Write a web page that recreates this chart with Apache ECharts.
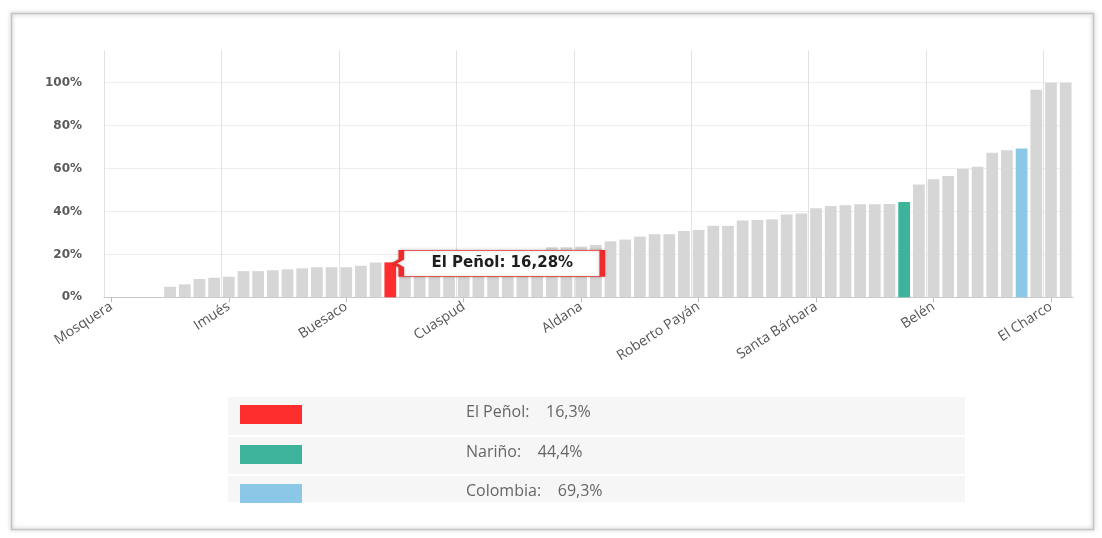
<!DOCTYPE html>
<html>
<head>
<meta charset="utf-8">
<script src="https://cdn.jsdelivr.net/npm/echarts@6/dist/echarts.min.js"></script>
<style>
html,body{margin:0;padding:0;background:#fff;}
#c{width:1102px;height:538px;}
</style>
</head>
<body>
<div id="c"></div>
<script>
// ---- data ----
const categories = [
  'Mosquera','La Tola','Olaya Herrera','Magüí','Francisco Pizarro','Barbacoas','Cumbitara','Policarpa',
  'Imués','Leiva','El Rosario','Ricaurte','Mallama','Los Andes','La Llanada','Providencia',
  'Buesaco','Arboleda','Funes','El Peñol','Ospina','Iles','Santacruz','Guaitarilla',
  'Cuaspud','Potosí','Contadero','Córdoba','Puerres','Cumbal','Guachucal','Sapuyes',
  'Aldana','Gualmatán','Yacuanquer','Tangua','Consacá','Ancuya','Linares','El Tambo',
  'Roberto Payán','San Pedro de Cartago','La Florida','Albán','Colón','San Bernardo','El Tablón de Gómez','San Lorenzo',
  'Santa Bárbara','Taminango','Chachagüí','San Pablo','La Cruz','Samaniego','Nariño','Sandoná',
  'Belén','La Unión','Pupiales','Túquerres','Nariño (municipio)','Ipiales','Colombia','Tumaco',
  'El Charco','Pasto'
];
const values = [
  0, 0, 0, 0, 4.9, 6.0, 8.5, 9.1,
  9.6, 12.2, 12.2, 12.6, 13.0, 13.5, 14.0, 14.0,
  14.0, 14.7, 16.2, 16.28, 16.6, 16.9, 17.4, 17.7,
  18.5, 19.0, 19.8, 20.4, 21.3, 22.0, 23.3, 23.3,
  23.6, 24.4, 26.1, 26.9, 28.3, 29.4, 29.4, 30.9,
  31.4, 33.3, 33.3, 35.8, 36.0, 36.3, 38.6, 39.1,
  41.5, 42.5, 42.9, 43.4, 43.4, 43.5, 44.4, 52.6,
  55.0, 56.5, 59.9, 60.8, 67.3, 68.5, 69.3, 96.7,
  100, 100
];
const highlightNames = ['El Peñol', 'Nariño', 'Colombia'];
const highlightValues = [16.28, 44.4, 69.3];
const highlightColors = ['#ff2e2e', '#3db39b', '#8bc8e8'];
const tooltipName = 'El Peñol';
const yTickValues = [0, 20, 40, 60, 80, 100];

// ---- helpers ----
const fmt = (v, d) => v.toFixed(d).replace('.', ',');
const barColor = '#d6d6d6';

const seriesData = values.map((v, i) => {
  const h = highlightNames.indexOf(categories[i]);
  return h >= 0 ? { value: v, itemStyle: { color: highlightColors[h] } } : v;
});

const tipIdx = categories.indexOf(tooltipName);
const tipVal = values[tipIdx];

// legend rows (table below chart)
const rowTops = [397, 437, 476];
const rowHeights = [38, 37, 26];
const legendGraphics = [];
highlightNames.forEach((n, i) => {
  legendGraphics.push({
    type: 'rect', left: 228, top: rowTops[i], z: 1,
    shape: { width: 737, height: rowHeights[i] },
    style: { fill: '#f6f6f6' }
  });
  legendGraphics.push({
    type: 'rect', left: 240, top: rowTops[i] + 8, z: 2,
    shape: { width: 62, height: 19 },
    style: { fill: highlightColors[i] }
  });
  legendGraphics.push({
    type: 'text', left: 466, top: rowTops[i] + 7, z: 2,
    style: {
      text: n + ':    ' + fmt(highlightValues[i], 1) + '%',
      fill: '#666', font: '16px "Open Sans", sans-serif'
    }
  });
});

const chart = echarts.init(document.getElementById('c'), null, { renderer: 'canvas' });
chart.setOption({
  animation: false,
  backgroundColor: '#fff',
  grid: { left: 104, right: 29, top: 50.5, bottom: 240.7, containLabel: false },
  xAxis: {
    type: 'category',
    data: categories,
    boundaryGap: true,
    axisLine: { show: true, lineStyle: { color: '#c8c8c8', width: 1 } },
    axisTick: { show: true, interval: 7, alignWithLabel: true, length: 5, lineStyle: { color: '#bbb' } },
    axisLabel: {
      interval: 7, rotate: 33, margin: 8,
      color: '#555', fontSize: 14, fontFamily: '"Open Sans", sans-serif'
    },
    splitLine: { show: true, interval: 7, showMaxLine: false, lineStyle: { color: '#e2e2e2', width: 1 } }
  },
  yAxis: {
    type: 'value',
    min: 0, max: 115, interval: 20,
    axisLine: { show: false },
    axisTick: { show: false },
    axisLabel: {
      margin: 22, showMaxLabel: false,
      color: '#5a5a5a', fontSize: 12, fontWeight: 'bold', fontFamily: '"DejaVu Sans", sans-serif',
      formatter: v => (yTickValues.indexOf(v) >= 0 ? v + '%' : '')
    },
    splitLine: { show: true, showMaxLine: false, lineStyle: { color: '#eeeeee', width: 1 } }
  },
  series: [{
    type: 'bar',
    data: seriesData,
    barCategoryGap: '20%',
    itemStyle: { color: barColor },
    emphasis: { disabled: true },
    markPoint: {
      silent: true,
      symbol: 'path://M7,0L208,0L208,26L7,26L7,17L0,13L7,9Z',
      symbolSize: [208, 26],
      symbolKeepAspect: false,
      symbolOffset: [108, 1],
      itemStyle: { color: '#fff', borderColor: '#ee2b2b', borderWidth: 2, shadowColor: 'rgba(0,0,0,0.25)', shadowBlur: 3 },
      label: {
        show: true, position: 'inside', offset: [4, 0],
        formatter: tooltipName + ': ' + fmt(tipVal, 2) + '%',
        color: '#1e1e1e', fontSize: 15, fontWeight: 'bold', fontFamily: '"DejaVu Sans", sans-serif'
      },
      data: [{ coord: [tooltipName, tipVal] }]
    }
  }],
  graphic: [
    {
      type: 'rect', left: 9, top: 11, z: 0, silent: true,
      shape: { width: 1082, height: 516 },
      style: { fill: 'none', stroke: '#c4c4c4', lineWidth: 1.5, shadowColor: 'rgba(0,0,0,0.3)', shadowBlur: 4 }
    }
  ].concat(legendGraphics)
});
</script>
</body>
</html>
